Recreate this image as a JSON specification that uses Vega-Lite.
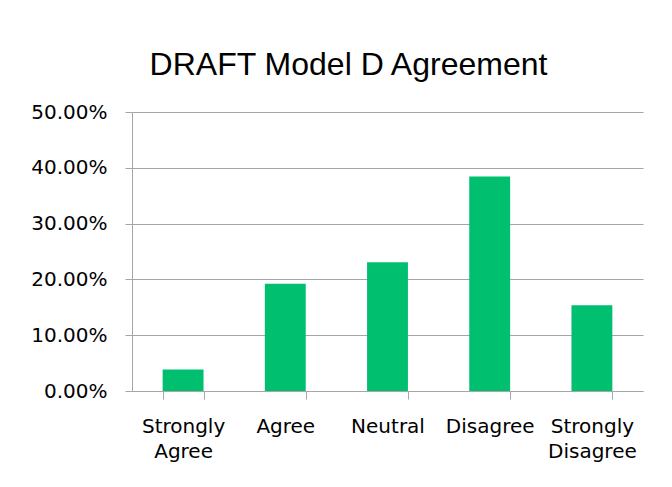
{
  "$schema": "https://vega.github.io/schema/vega-lite/v6.json",
  "autosize": {"type": "none"},
  "width": 511,
  "height": 279,
  "padding": {"left": 132, "top": 112, "right": 29, "bottom": 96},
  "background": "white",
  "title": {
    "text": "DRAFT Model D Agreement",
    "font": "Liberation Sans",
    "fontSize": 32,
    "fontWeight": "normal",
    "color": "#000000",
    "anchor": "middle",
    "frame": "group",
    "baseline": "alphabetic",
    "offset": 35,
    "dx": -39,
    "dy": 40
  },
  "data": {
    "values": [
      {"response": "Strongly Agree", "share": 0.0385},
      {"response": "Agree", "share": 0.1923},
      {"response": "Neutral", "share": 0.2308},
      {"response": "Disagree", "share": 0.3846},
      {"response": "Strongly Disagree", "share": 0.1538}
    ]
  },
  "mark": {"type": "bar", "color": "#00BF6F"},
  "encoding": {
    "x": {
      "field": "response",
      "type": "nominal",
      "sort": null,
      "scale": {"paddingInner": 0.6, "paddingOuter": 0.3},
      "axis": {
        "title": null,
        "labelAngle": 0,
        "labelExpr": "split(datum.label, ' ')",
        "labelFont": "DejaVu Sans",
        "labelFontSize": 20,
        "labelColor": "#000000",
        "labelLineHeight": 25,
        "labelPadding": 17,
        "labelBaseline": "top",
        "tickBand": "extent",
        "tickSize": 8,
        "tickColor": "#a6a6a6",
        "domainColor": "#a6a6a6",
        "grid": false
      }
    },
    "y": {
      "field": "share",
      "type": "quantitative",
      "scale": {"domain": [0, 0.5]},
      "axis": {
        "title": null,
        "format": ".2%",
        "values": [0, 0.1, 0.2, 0.3, 0.4, 0.5],
        "labelFont": "DejaVu Sans",
        "labelFontSize": 20,
        "labelColor": "#000000",
        "labelPadding": 18,
        "tickSize": 7,
        "tickColor": "#a6a6a6",
        "domainColor": "#a6a6a6",
        "grid": true,
        "gridColor": "#a6a6a6"
      }
    }
  },
  "config": {
    "view": {"stroke": null}
  }
}
